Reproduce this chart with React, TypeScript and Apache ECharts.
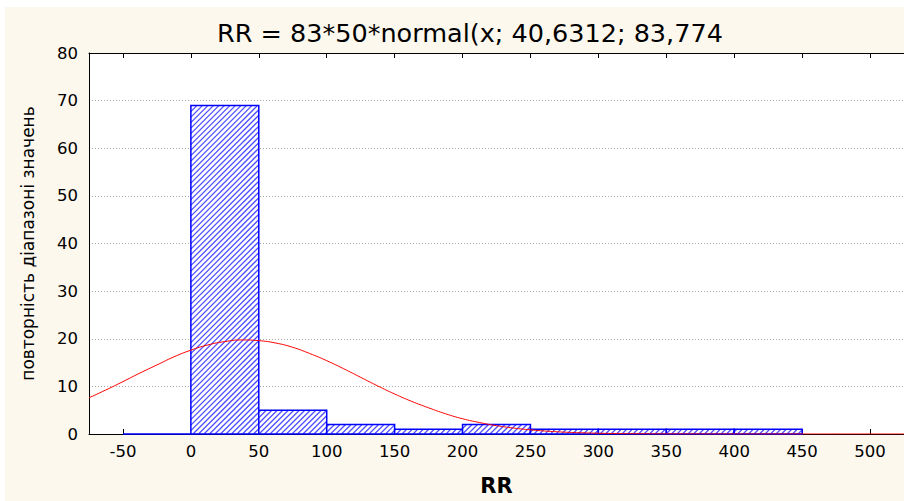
import React, { useEffect, useRef } from "react";
import * as echarts from "echarts";

// Histogram bins (start of each 50-wide class) and observed counts
const binStarts = [-50, 0, 50, 100, 150, 200, 250, 300, 350, 400];
const binWidth = 50;
const counts = [0, 69, 5, 2, 1, 2, 1, 1, 1, 1];

// Fitted normal curve
const curveX = [
  -75, -62.5, -50, -37.5, -25, -12.5, 0, 12.5, 25, 37.5, 50, 62.5, 75, 87.5, 100, 112.5, 125, 137.5,
  150, 162.5, 175, 187.5, 200, 212.5, 225, 237.5, 250, 262.5, 275, 287.5, 300, 312.5, 325, 350, 375,
  400, 425, 450, 475, 500, 525,
];
const curveY = [
  7.6, 9.26, 11.0, 12.8, 14.5, 16.2, 17.6, 18.7, 19.4, 19.75, 19.6, 19.1, 18.2, 16.9, 15.4, 13.7, 11.9,
  10.1, 8.4, 6.86, 5.5, 4.25, 3.2, 2.41, 1.75, 1.25, 0.87, 0.59, 0.39, 0.26, 0.16, 0.1, 0.06, 0.02,
  0.01, 0, 0, 0, 0, 0, 0,
];

// Axes
const xTicks = [-50, 0, 50, 100, 150, 200, 250, 300, 350, 400, 450, 500];
const xMin = -75;
const xMax = 525;
const yMin = 0;
const yMax = 80;
const yStep = 10;

const titleText = "RR = 83*50*normal(x; 40,6312; 83,774";
const xAxisTitle = "RR";
const yAxisTitle = "повторність діапазоні значень";

const FONT = "DejaVu Sans";

export default function App() {
  const ref = useRef<HTMLDivElement>(null);

  useEffect(() => {
    document.body.style.margin = "0";
    if (!ref.current) return;
    const chart = echarts.init(ref.current, undefined, { renderer: "svg" });

    const histData = binStarts.map((s, i) => [s, s + binWidth, counts[i]]);
    const lineData = curveX.map((x, i) => [x, curveY[i]]);

    const option: any = {
      animation: false,
      backgroundColor: "#ffffff",
      graphic: [
        {
          type: "rect",
          z: -10,
          silent: true,
          shape: { x: 5, y: 7, width: 904, height: 501 },
          style: { fill: "#fdf8ee" },
        },
      ],
      title: {
        text: titleText,
        left: 217,
        top: 20,
        padding: 0,
        textStyle: {
          fontFamily: FONT,
          fontSize: 25.5,
          fontWeight: "normal",
          color: "#000",
        },
      },
      grid: {
        left: 89,
        right: 0,
        top: 53,
        bottom: 56,
        show: true,
        backgroundColor: "#ffffff",
        borderWidth: 0,
      },
      xAxis: [
        {
          type: "value",
          min: xMin,
          max: xMax,
          position: "bottom",
          name: xAxisTitle,
          nameLocation: "middle",
          nameGap: 41,
          nameTextStyle: { fontFamily: FONT, fontSize: 21, fontWeight: "bold", color: "#000" },
          axisLine: { show: true, onZero: false, lineStyle: { color: "#000", width: 1 } },
          axisTick: { show: true, inside: true, length: 5, customValues: xTicks, lineStyle: { color: "#000" } },
          axisLabel: { show: true, customValues: xTicks, margin: 9, fontFamily: FONT, fontSize: 16.5, color: "#000" },
          splitLine: { show: false },
        },
        {
          type: "value",
          min: xMin,
          max: xMax,
          position: "top",
          axisLine: { show: true, onZero: false, lineStyle: { color: "#000", width: 1 } },
          axisTick: { show: true, inside: true, length: 5, customValues: xTicks, lineStyle: { color: "#000" } },
          axisLabel: { show: false },
          splitLine: { show: false },
        },
      ],
      yAxis: {
        type: "value",
        min: yMin,
        max: yMax,
        interval: yStep,
        name: yAxisTitle,
        nameLocation: "middle",
        nameGap: 53,
        nameRotate: 90,
        nameTextStyle: { fontFamily: FONT, fontSize: 17, color: "#000" },
        axisLine: { show: true, onZero: false, lineStyle: { color: "#000", width: 1 } },
        axisTick: { show: false },
        axisLabel: { margin: 11, fontFamily: FONT, fontSize: 16.5, color: "#000" },
        splitLine: { show: true, lineStyle: { color: "#a8a8a8", type: [1, 2], width: 1 } },
      },
      series: [
        {
          type: "custom",
          xAxisIndex: 0,
          data: histData,
          encode: { x: [0, 1], y: 2 },
          z: 2,
          renderItem: (params: any, api: any) => {
            const x0 = api.value(0);
            const x1 = api.value(1);
            const h = api.value(2);
            const p0 = api.coord([x0, h]);
            const p1 = api.coord([x1, 0]);
            const left = p0[0];
            const right = p1[0];
            const top = p0[1];
            const bottom = p1[1];
            const children: any[] = [
              {
                type: "rect",
                shape: { x: left, y: top, width: right - left, height: bottom - top },
                style: { fill: "#ffffff", stroke: "none" },
              },
            ];
            const step = 5.5;
            const cStart = Math.ceil((left + top) / step) * step;
            for (let c = cStart; c < right + bottom; c += step) {
              const xs = Math.max(left, c - bottom);
              const xe = Math.min(right, c - top);
              if (xe > xs) {
                children.push({
                  type: "line",
                  shape: { x1: xs, y1: c - xs, x2: xe, y2: c - xe },
                  style: { stroke: "#5050ff", lineWidth: 1.3 },
                });
              }
            }
            children.push({
              type: "rect",
              shape: { x: left, y: top, width: right - left, height: bottom - top },
              style: { fill: "none", stroke: "#0000ff", lineWidth: 1.5 },
            });
            return { type: "group", children };
          },
        },
        {
          type: "line",
          xAxisIndex: 0,
          data: lineData,
          smooth: true,
          showSymbol: false,
          symbol: "none",
          z: 5,
          lineStyle: { color: "#ff0000", width: 1 },
        },
      ],
    };

    chart.setOption(option);
    return () => {
      chart.dispose();
    };
  }, []);

  return <div ref={ref} style={{ width: 904, height: 501, overflow: "hidden" }} />;
}
